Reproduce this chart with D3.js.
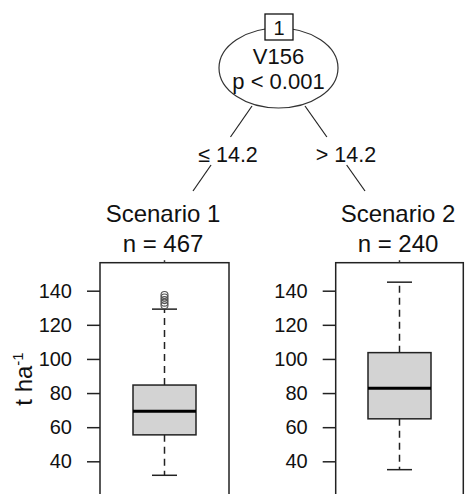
<!DOCTYPE html>
<html>
<head>
<meta charset="utf-8">
<script src="https://cdn.jsdelivr.net/npm/d3@7"></script>
<style>
  body { margin: 0; background: #fff; }
  text { font-family: Arial, "Liberation Sans", sans-serif; fill: #111; }
</style>
</head>
<body>
<div id="chart"></div>
<script>
// data
const scenarios = ["Scenario 1", "Scenario 2"];
const counts = [467, 240];
const lowWhisker = [31.8, 35.1];
const q1 = [55.5, 64.9];
const medians = [69.4, 82.8];
const q3 = [84.7, 103.7];
const highWhisker = [129.2, 145];
const outliers = [[131.5, 133, 134.5, 136, 137.5], []];
const tickLabels = [40, 60, 80, 100, 120, 140];
const splitVar = "V156";
const splitP = "p < 0.001";
const splitLabels = ["\u2264 14.2", "> 14.2"];

let width = 470, height = 494;

let svg = d3.select("#chart").append("svg")
    .attr("width", width)
    .attr("height", height);

// y scale shared by both panels
let y = d3.scaleLinear()
    .domain([40, 140])
    .range([461.3, 290.7]);

// ---- inner node ----
let node = {x: 278.5, y: 68};

// edges
let edges = [
  {from: [252, 106], to: [193, 191], gap: [137, 165], label: splitLabels[0], lx: 228},
  {from: [305, 106], to: [365, 191], gap: [137, 165], label: splitLabels[1], lx: 346}
];
edges.forEach((e) => {
  let f = (yy) => e.from[0] + (e.to[0] - e.from[0]) * (yy - e.from[1]) / (e.to[1] - e.from[1]);
  svg.append("line")
    .attr("x1", e.from[0]).attr("y1", e.from[1])
    .attr("x2", f(e.gap[0])).attr("y2", e.gap[0])
    .attr("stroke", "#222").attr("stroke-width", 1.2);
  svg.append("line")
    .attr("x1", f(e.gap[1])).attr("y1", e.gap[1])
    .attr("x2", e.to[0]).attr("y2", e.to[1])
    .attr("stroke", "#222").attr("stroke-width", 1.2);
  svg.append("text")
    .attr("x", e.lx).attr("y", 162)
    .attr("text-anchor", "middle")
    .style("font-size", "21.5px")
    .text(e.label);
});

svg.append("ellipse")
    .attr("cx", node.x).attr("cy", node.y)
    .attr("rx", 59.5).attr("ry", 40)
    .attr("fill", "#fff")
    .attr("stroke", "#333").attr("stroke-width", 1.2);

svg.append("text")
    .attr("x", node.x).attr("y", 64)
    .attr("text-anchor", "middle")
    .style("font-size", "22px")
    .text(splitVar);
svg.append("text")
    .attr("x", node.x).attr("y", 89)
    .attr("text-anchor", "middle")
    .style("font-size", "22px")
    .text(splitP);

svg.append("rect")
    .attr("x", 265).attr("y", 14)
    .attr("width", 28).attr("height", 26)
    .attr("fill", "#fff")
    .attr("stroke", "#111").attr("stroke-width", 1.3);
svg.append("text")
    .attr("x", 279).attr("y", 35)
    .attr("text-anchor", "middle")
    .style("font-size", "20px")
    .text("1");

// ---- terminal panels ----
let panels = [
  {x0: 100, x1: 229},
  {x0: 335.7, x1: 463.3}
];
let frameTop = 262.7;
let boxW = 63, capW = 25;

panels.forEach((p, i) => {
  let cx = (p.x0 + p.x1) / 2;
  let g = svg.append("g");

  g.append("text")
    .attr("x", cx - 1.5).attr("y", 222)
    .attr("text-anchor", "middle")
    .style("font-size", "24px")
    .text(scenarios[i]);
  g.append("text")
    .attr("x", cx - 1.5).attr("y", 252)
    .attr("text-anchor", "middle")
    .style("font-size", "24px")
    .text("n = " + counts[i]);

  g.append("rect")
    .attr("x", p.x0).attr("y", frameTop)
    .attr("width", p.x1 - p.x0).attr("height", 300)
    .attr("fill", "#fff")
    .attr("stroke", "#222").attr("stroke-width", 1.5);

  // little edge stub at frame top
  g.append("line")
    .attr("x1", cx).attr("x2", cx)
    .attr("y1", frameTop - 2.5).attr("y2", frameTop)
    .attr("stroke", "#333").attr("stroke-width", 1.5);

  // axis
  let axis = d3.axisLeft(y)
      .tickValues(tickLabels)
      .tickSize(13)
      .tickPadding(15);
  let ax = g.append("g")
    .attr("transform", "translate(" + p.x0 + ",0)")
    .call(axis);
  ax.select(".domain").remove();
  ax.selectAll(".tick line").attr("stroke", "#222").attr("stroke-width", 1.5);
  ax.selectAll(".tick text")
    .style("font-size", "20px")
    .style("font-family", "Arial, 'Liberation Sans', sans-serif")
    .attr("fill", "#111");

  // whiskers
  g.append("line")
    .attr("x1", cx).attr("x2", cx)
    .attr("y1", y(q3[i])).attr("y2", y(highWhisker[i]))
    .attr("stroke", "#222").attr("stroke-width", 1.5)
    .attr("stroke-dasharray", "7,5");
  g.append("line")
    .attr("x1", cx).attr("x2", cx)
    .attr("y1", y(q1[i])).attr("y2", y(lowWhisker[i]))
    .attr("stroke", "#222").attr("stroke-width", 1.5)
    .attr("stroke-dasharray", "7,5");
  [highWhisker[i], lowWhisker[i]].forEach((v) => {
    g.append("line")
      .attr("x1", cx - capW / 2).attr("x2", cx + capW / 2)
      .attr("y1", y(v)).attr("y2", y(v))
      .attr("stroke", "#222").attr("stroke-width", 1.5);
  });

  // box
  g.append("rect")
    .attr("x", cx - boxW / 2).attr("y", y(q3[i]))
    .attr("width", boxW).attr("height", y(q1[i]) - y(q3[i]))
    .attr("fill", "#d3d3d3")
    .attr("stroke", "#222").attr("stroke-width", 1.5);
  g.append("line")
    .attr("x1", cx - boxW / 2).attr("x2", cx + boxW / 2)
    .attr("y1", y(medians[i])).attr("y2", y(medians[i]))
    .attr("stroke", "#000").attr("stroke-width", 3);

  // outliers
  g.selectAll(".out")
    .data(outliers[i])
    .enter().append("circle")
    .attr("cx", cx).attr("cy", (d) => y(d))
    .attr("r", 3.5)
    .attr("fill", "none")
    .attr("stroke", "#555").attr("stroke-width", 1.1);
});

// y label
let yl = svg.append("text")
    .attr("transform", "translate(32,379) rotate(-90)")
    .attr("text-anchor", "middle")
    .style("font-size", "24px");
yl.append("tspan").text("t ha");
yl.append("tspan").attr("dy", -9).style("font-size", "15px").text("-1");
</script>
</body>
</html>
